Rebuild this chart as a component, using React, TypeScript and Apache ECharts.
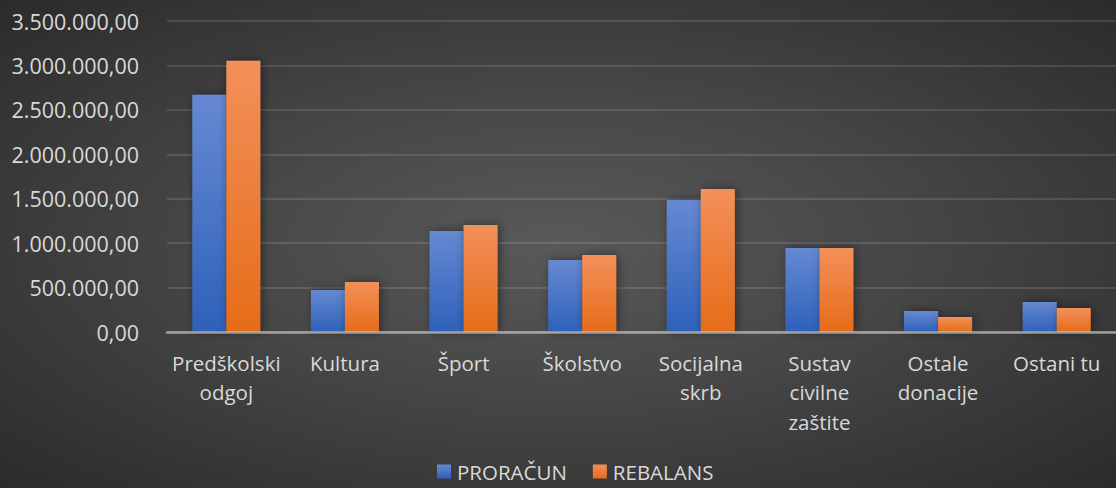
import React, { useEffect, useRef } from "react";
import * as echarts from "echarts";

const categories = [
  "Predškolski\nodgoj",
  "Kultura",
  "Šport",
  "Školstvo",
  "Socijalna\nskrb",
  "Sustav\ncivilne\nzaštite",
  "Ostale\ndonacije",
  "Ostani tu",
];
const proracun = [2669000, 473000, 1137000, 811000, 1486000, 946000, 236000, 338000];
const rebalans = [3052000, 563000, 1205000, 867000, 1610000, 946000, 169000, 270000];
const seriesNames = ["PRORAČUN", "REBALANS"];
const yMax = 3500000;
const yInterval = 500000;

function fmt(v: number): string {
  const s = Math.round(v).toString().replace(/\B(?=(\d{3})+(?!\d))/g, ".");
  return s + ",00";
}

const FONT = "'Open Sans', sans-serif";
const TEXT = "#d9d9d9";

export default function App() {
  const ref = useRef<HTMLDivElement>(null);
  useEffect(() => {
    if (!ref.current) return;
    const chart = echarts.init(ref.current, null, { renderer: "svg" });
    const grad = (top: string, bottom: string) =>
      new echarts.graphic.LinearGradient(0, 0, 0, 1, [
        { offset: 0, color: top },
        { offset: 1, color: bottom },
      ]);
    chart.setOption({
      animation: false,
      backgroundColor: "transparent",
      grid: { left: 167, top: 21, width: 956, height: 311, containLabel: false },
      legend: {
        data: seriesNames,
        left: 437,
        top: 461,
        padding: 0,
        itemWidth: 14,
        itemHeight: 14,
        itemGap: 26,
        icon: "rect",
        textStyle: { color: TEXT, fontSize: 20.5, fontFamily: FONT, padding: [0, 0, 0, 1] },
      },
      xAxis: {
        type: "category",
        data: categories,
        axisLine: { show: true, lineStyle: { color: "rgba(217,217,217,0.6)", width: 2.5 } },
        axisTick: { show: false },
        axisLabel: {
          color: TEXT,
          fontSize: 20.5,
          fontFamily: FONT,
          lineHeight: 29.5,
          margin: 16,
          interval: 0,
        },
        splitLine: { show: false },
        z: 5,
      },
      yAxis: {
        type: "value",
        min: 0,
        max: yMax,
        interval: yInterval,
        axisLine: { show: false },
        axisTick: { show: false },
        axisLabel: {
          color: TEXT,
          fontSize: 21.5,
          fontFamily: FONT,
          margin: 28,
          formatter: (v: number) => fmt(v),
        },
        splitLine: { lineStyle: { color: "rgba(255,255,255,0.12)", width: 2 } },
      },
      series: [
        {
          name: seriesNames[0],
          type: "bar",
          data: proracun,
          barWidth: 34,
          barGap: "0%",
          itemStyle: {
            color: grad("#6689d2", "#2e61ba"),
            shadowBlur: 10,
            shadowColor: "rgba(0,0,0,0.45)",
            shadowOffsetX: 2,
          },
        },
        {
          name: seriesNames[1],
          type: "bar",
          data: rebalans,
          barWidth: 34,
          barGap: "0%",
          itemStyle: {
            color: grad("#f3905a", "#e66c18"),
            shadowBlur: 10,
            shadowColor: "rgba(0,0,0,0.45)",
            shadowOffsetX: 2,
          },
        },
      ],
    });
    return () => chart.dispose();
  }, []);
  return (
    <div
      style={{
        position: "absolute",
        left: 0,
        top: 0,
        width: 1116,
        height: 488,
        overflow: "hidden",
        background: "radial-gradient(ellipse at 50% 50%, #595959 0%, #464646 45%, #2b2b2b 100%)",
      }}
    >
      <div ref={ref} style={{ width: 1116, height: 488 }} />
    </div>
  );
}
